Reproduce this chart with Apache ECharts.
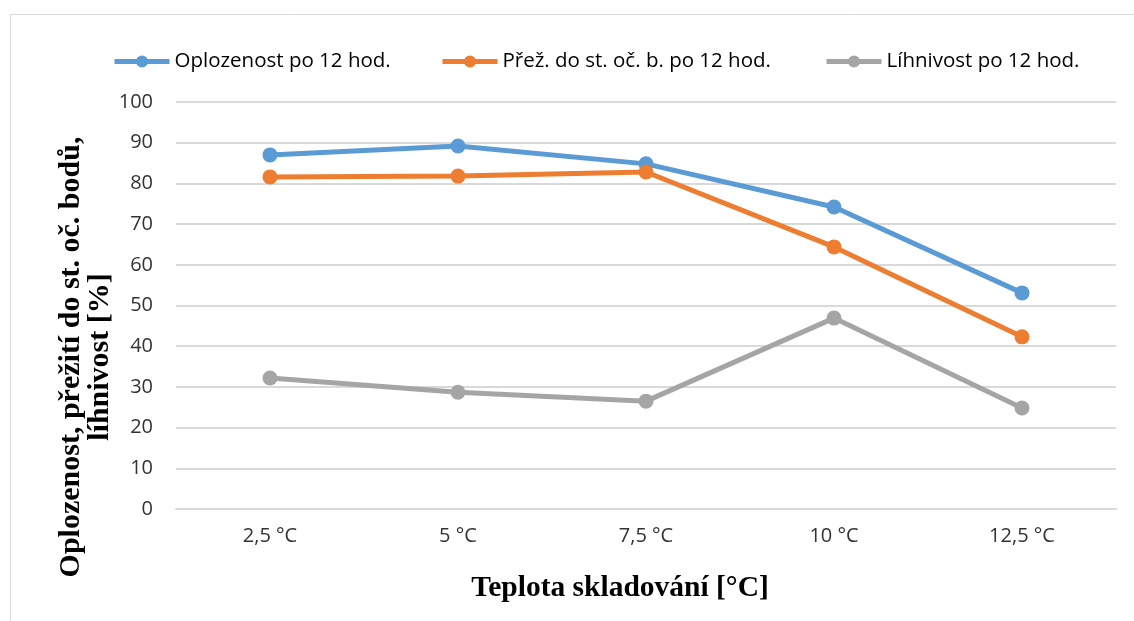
<!DOCTYPE html>
<html><head><meta charset="utf-8">
<script src="https://cdn.jsdelivr.net/npm/echarts@6/dist/echarts.min.js"></script>
<style>html,body{margin:0;padding:0;background:#fff}#c{width:1134px;height:621px}</style>
</head><body><div id="c"></div>
<script>
const categories = ['2,5 °C', '5 °C', '7,5 °C', '10 °C', '12,5 °C'];
const seriesNames = ['Oplozenost po 12 hod.', 'Přež. do st. oč. b. po 12 hod.', 'Líhnivost po 12 hod.'];
const oplozenost = [87.0, 89.2, 84.8, 74.2, 53.1];
const prezitiOcb = [81.6, 81.8, 82.8, 64.4, 42.3];
const lihnivost = [32.2, 28.7, 26.5, 46.9, 24.8];
const colors = ['#5B9BD5', '#ED7D31', '#A5A5A5'];
const yTicks = [0, 10, 20, 30, 40, 50, 60, 70, 80, 90, 100];
const xTitle = 'Teplota skladování [°C]';
const yTitle = 'Oplozenost, přežití do st. oč. bodů,\nlíhnivost [%]';

const chart = echarts.init(document.getElementById('c'));
const sansFont = '"Open Sans", "Noto Sans", sans-serif';
const serifFont = '"Liberation Serif", "Times New Roman", serif';
const legendLefts = [112, 440, 824];
const dataSets = [oplozenost, prezitiOcb, lihnivost];
chart.setOption({
  animation: false,
  backgroundColor: '#fff',
  graphic: [{
    type: 'rect', left: 8, top: 12,
    shape: {width: 1140, height: 620},
    style: {fill: 'none', stroke: '#D9D9D9', lineWidth: 1}
  }, {
    type: 'text', x: 620, y: 588,
    style: {text: xTitle, font: 'bold 29.5px ' + serifFont, fill: '#000', align: 'center', verticalAlign: 'middle'}
  }, {
    type: 'text', x: 86, y: 357, rotation: Math.PI / 2,
    style: {text: yTitle, font: 'bold 30px ' + serifFont, lineHeight: 29, fill: '#000', align: 'center', verticalAlign: 'middle'}
  }],
  legend: seriesNames.map((n, i) => ({
    data: [n], left: legendLefts[i], top: 51, padding: 0,
    itemWidth: 55, itemHeight: 15,
    lineStyle: {width: 5},
    textStyle: {fontFamily: sansFont, fontSize: 20.5, color: '#000'}
  })),
  grid: {left: 176, right: 18, top: 102, bottom: 112},
  xAxis: {
    type: 'category', data: categories, boundaryGap: true,
    axisLine: {lineStyle: {color: '#D9D9D9', width: 2}},
    axisTick: {show: false},
    axisLabel: {fontFamily: sansFont, fontSize: 20, color: '#333', margin: 17}
  },
  yAxis: {
    type: 'value', min: yTicks[0], max: yTicks[yTicks.length - 1], interval: 10,
    axisLine: {show: false}, axisTick: {show: false},
    splitLine: {lineStyle: {color: '#D9D9D9', width: 2}},
    axisLabel: {fontFamily: sansFont, fontSize: 20, color: '#333', margin: 23}
  },
  series: seriesNames.map((n, i) => ({
    name: n, type: 'line', data: dataSets[i],
    symbol: 'circle', symbolSize: 15,
    lineStyle: {color: colors[i], width: 5},
    itemStyle: {color: colors[i]}
  }))
});
</script></body></html>
